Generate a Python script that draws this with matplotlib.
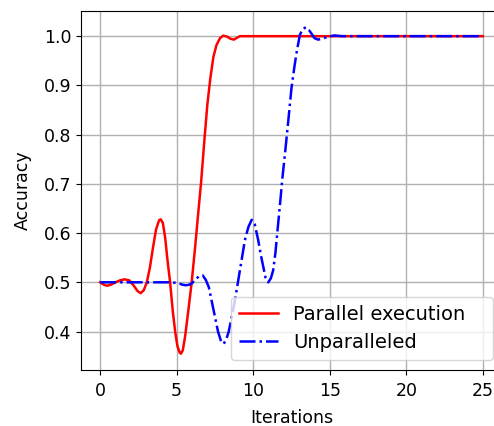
import matplotlib
matplotlib.use("Agg")
import matplotlib.pyplot as plt

# accuracy per iteration
par_x = [0.0, 0.25, 0.45, 0.7, 1.0, 1.3, 1.6, 1.9, 2.2, 2.45, 2.65, 2.85, 3.05, 3.25,
         3.45, 3.65, 3.85, 3.96, 4.1, 4.25, 4.4, 4.57, 4.75, 4.9, 5.05, 5.2, 5.28, 5.4,
         5.55, 5.75, 5.98, 6.2, 6.4, 6.6, 6.8, 7.0, 7.2, 7.4, 7.6, 7.83, 8.04, 8.3, 8.5,
         8.74, 8.95, 9.13, 10, 15, 20, 25]
par_y = [0.500, 0.495, 0.493, 0.495, 0.500, 0.504, 0.506, 0.504, 0.493, 0.482, 0.478,
         0.484, 0.500, 0.530, 0.570, 0.607, 0.626, 0.628, 0.620, 0.590, 0.545, 0.500,
         0.440, 0.400, 0.370, 0.357, 0.355, 0.362, 0.390, 0.440, 0.500, 0.570, 0.638,
         0.705, 0.785, 0.860, 0.915, 0.958, 0.982, 0.996, 1.001, 0.999, 0.995, 0.993,
         0.997, 1.000, 1.000, 1.000, 1.000, 1.000]

unpar_x = [0.0, 2.0, 4.0, 4.5, 5.0, 5.4, 5.6, 5.8, 6.0, 6.2, 6.45, 6.7, 6.9, 7.1, 7.3,
           7.5, 7.7, 7.9, 8.07, 8.25, 8.4, 8.6, 8.81, 9.0, 9.24, 9.45, 9.68, 9.9, 10.1,
           10.33, 10.5, 10.66, 10.8, 10.98, 11.15, 11.3, 11.45, 11.6, 11.74, 11.9, 12.07,
           12.29, 12.5, 12.7, 12.85, 13.05, 13.25, 13.44, 13.65, 13.81, 14.0, 14.24, 14.5,
           14.9, 15.3, 15.8, 20, 25]
unpar_y = [0.500, 0.500, 0.500, 0.500, 0.499, 0.495, 0.494, 0.495, 0.498, 0.505, 0.512,
           0.514, 0.505, 0.490, 0.460, 0.430, 0.400, 0.380, 0.375, 0.385, 0.400, 0.430,
           0.464, 0.500, 0.545, 0.585, 0.612, 0.627, 0.618, 0.585, 0.555, 0.531, 0.510,
           0.500, 0.508, 0.524, 0.560, 0.610, 0.655, 0.710, 0.760, 0.828, 0.895, 0.940,
           0.970, 1.003, 1.015, 1.018, 1.012, 1.005, 0.996, 0.993, 0.995, 0.999, 1.0015,
           1.000, 1.000, 1.000]

plt.rcParams["font.size"] = 12.5

fig = plt.figure(figsize=(4.94, 4.26), dpi=100)
ax = fig.add_axes([81 / 494, 56 / 426, 421 / 494, 359 / 426])

ax.plot(par_x, par_y, color="red", linestyle="-", linewidth=1.8, label="Parallel execution")
ax.plot(unpar_x, unpar_y, color="blue", linestyle="-.", linewidth=1.8, label="Unparalleled")

ax.set_xlabel("Iterations", labelpad=6)
ax.set_ylabel("Accuracy", labelpad=8.5)
ax.set_xticks([0, 5, 10, 15, 20, 25])
ax.tick_params(axis="x", pad=5.5)
ax.grid(True, color="#b0b0b0", linewidth=1)
ax.legend(loc="lower left", mode="expand", fontsize=14,
          bbox_to_anchor=(231 / 494, 66 / 426, 262 / 494, 61 / 426),
          bbox_transform=fig.transFigure, borderaxespad=0, handlelength=2.0)

fig.savefig("out.png", dpi=100)
